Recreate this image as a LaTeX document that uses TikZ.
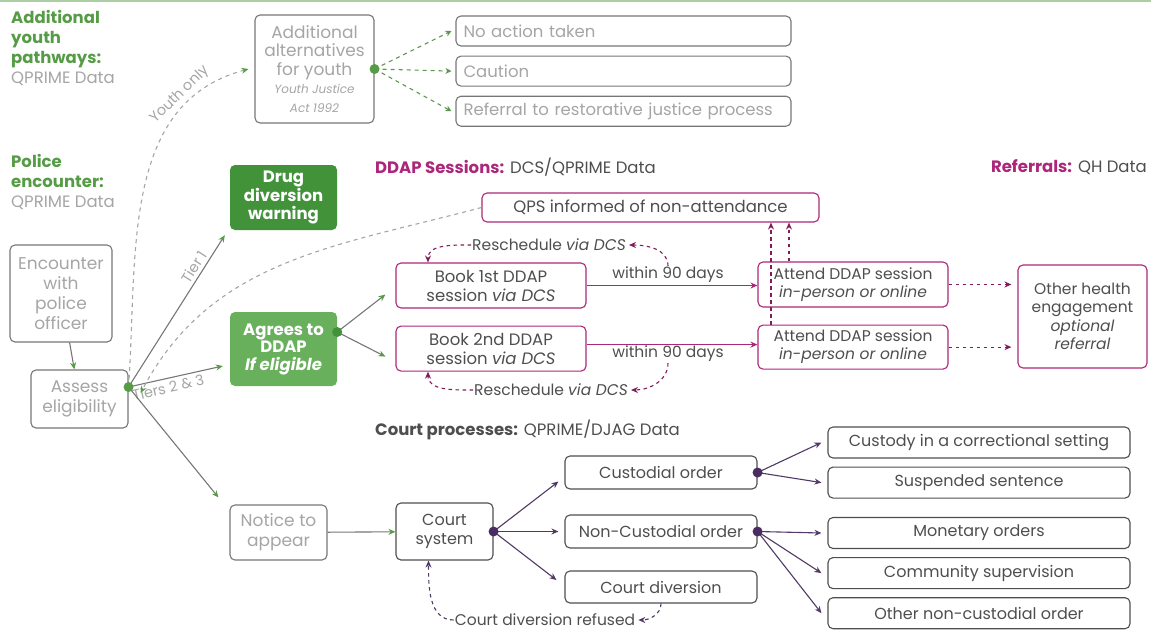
\documentclass[tikz,border=0pt]{standalone}
\usepackage{fontspec}
\setmainfont{Poppins}
\usepackage{xcolor}
\usetikzlibrary{positioning,arrows.meta,calc}
\definecolor{boxgray}{RGB}{118,118,118}
\definecolor{softgray}{RGB}{165,165,165}
\definecolor{inkgray}{RGB}{78,78,78}
\definecolor{headgreen}{RGB}{86,156,70}
\definecolor{warngreen}{RGB}{66,146,58}
\definecolor{agreegreen}{RGB}{104,176,92}
\definecolor{ddapmag}{RGB}{172,38,122}
\definecolor{courtpurp}{RGB}{72,44,98}
\tikzset{
  gbox/.style  = {draw=boxgray, rounded corners=5pt, line width=1.1pt, align=center, text=softgray, inner sep=2pt, font=\fontsize{16.5}{19.5}\selectfont},
  fbox/.style  = {draw=none, rounded corners=5pt, align=center, text=white, inner sep=2pt, font=\fontsize{16.5}{17.5}\selectfont\bfseries},
  mbox/.style  = {draw=ddapmag, rounded corners=5pt, line width=1.1pt, align=center, text=inkgray, inner sep=2pt, font=\fontsize{16.5}{19}\selectfont},
  cbox/.style  = {draw=inkgray, rounded corners=5pt, line width=1.1pt, align=center, text=inkgray, inner sep=2pt, font=\fontsize{16}{19}\selectfont},
  head/.style  = {anchor=north west, align=left, inner sep=0pt, font=\fontsize{16.5}{20}\selectfont},
  lbl/.style   = {inner sep=1pt, text=inkgray, font=\fontsize{15.5}{17}\selectfont},
  glbl/.style  = {inner sep=3pt, text=softgray, font=\fontsize{14.5}{16}\selectfont},
  gflow/.style = {-{Stealth[length=7pt,width=6pt,color=headgreen]}, line width=1.1pt, draw=boxgray},
  gdash/.style = {gflow, dash pattern=on 4pt off 4pt},
  ydash/.style = {-{Stealth[length=6pt,width=6pt]}, line width=1.1pt, draw=headgreen!80!gray, dash pattern=on 4pt off 4pt},
  mflow/.style = {-{Stealth[length=7pt,width=6pt]}, line width=1.1pt, draw=ddapmag},
  mdash/.style = {mflow, draw=ddapmag!75!black, dash pattern=on 3.5pt off 3.5pt},
  cflow/.style = {-{Stealth[length=7pt,width=6pt]}, line width=1.1pt, draw=courtpurp!85!gray},
  cdash/.style = {cflow, dash pattern=on 3.5pt off 3.5pt},
}
\newcommand{\subtxt}[1]{{\fontsize{12}{19}\selectfont\itshape #1}}

\begin{document}
\begin{tikzpicture}[x=1pt, y=-1pt, node distance=9pt]
  \useasboundingbox (0,0) rectangle (1151,630);
  \draw[headgreen!50, line width=2pt] (0,1) -- (1151,1);

  % headings
  \node[head] (hy) at (11,10) {\textcolor{headgreen}{\bfseries Additional}\\\textcolor{headgreen}{\bfseries youth}\\\textcolor{headgreen}{\bfseries pathways:}\\\textcolor{softgray}{QPRIME Data}};
  \node[head] (hp) at (11,154) {\textcolor{headgreen}{\bfseries Police}\\\textcolor{headgreen}{\bfseries encounter:}\\\textcolor{softgray}{QPRIME Data}};
  \node[head, anchor=west] (hd) at (375,167) {\textcolor{ddapmag}{\bfseries DDAP Sessions:} \textcolor{inkgray}{DCS/QPRIME Data}};
  \node[head, anchor=east] (hr) at (1147,167) {\textcolor{ddapmag}{\bfseries Referrals:} \textcolor{inkgray}{QH Data}};
  \node[head, anchor=west] (hc) at (375,430) {\textcolor{inkgray}{\bfseries Court processes:} \textcolor{inkgray}{QPRIME/DJAG Data}};

  % youth pathways
  \node[gbox, minimum width=119pt, minimum height=108pt, font=\fontsize{17}{18.5}\selectfont] (alt) at (314.5,69) {Additional\\alternatives\\for youth\\\subtxt{Youth Justice}\\\subtxt{Act 1992}};
  \node[gbox, minimum width=335pt, minimum height=30pt, text width=320pt, align=left] (noact) at (623.5,31) {No action taken};
  \node[gbox, minimum width=335pt, minimum height=30pt, text width=320pt, align=left, below=9pt of noact] (caut) {Caution};
  \node[gbox, minimum width=335pt, minimum height=30pt, text width=320pt, align=left, below=9pt of caut] (restj) {Referral to restorative justice process};

  % police encounter
  \node[gbox, minimum width=102pt, minimum height=97pt, font=\fontsize{17}{20}\selectfont] (enc) at (61,293.5) {Encounter\\with\\police\\officer};
  \node[gbox, minimum width=97pt, minimum height=58pt, font=\fontsize{17}{20}\selectfont] (assess) at (79.5,399) {Assess\\eligibility};
  \node[fbox, fill=warngreen, minimum width=107pt, minimum height=65pt] (ddw) at (283.5,197.5) {Drug\\diversion\\warning};
  \node[fbox, fill=agreegreen, minimum width=107pt, minimum height=74pt] (agree) at (283.5,349) {Agrees to\\DDAP\\\textit{If eligible}};
  \node[gbox, minimum width=97pt, minimum height=55pt, font=\fontsize{17}{20}\selectfont] (notice) at (278.5,532.5) {Notice to\\appear};

  % DDAP sessions
  \node[mbox, minimum width=337pt, minimum height=29pt] (qps) at (650.5,207.5) {QPS informed of non-attendance};
  \node[mbox, minimum width=190pt, minimum height=45pt] (book1) at (491,285.5) {Book 1st DDAP\\session \textit{via DCS}};
  \node[mbox, minimum width=190pt, minimum height=45pt, below=17pt of book1] (book2) {Book 2nd DDAP\\session \textit{via DCS}};
  \node[mbox, minimum width=190pt, minimum height=45pt, font=\fontsize{15.5}{18}\selectfont] (att1) at (853,284.5) {Attend DDAP session\\\textit{in-person or online}};
  \node[mbox, minimum width=190pt, minimum height=44pt, font=\fontsize{15.5}{18}\selectfont, below=17pt of att1] (att2) {Attend DDAP session\\\textit{in-person or online}};
  \node[mbox, minimum width=129pt, minimum height=103pt, font=\fontsize{15.5}{18.5}\selectfont] (other) at (1082.5,316.5) {Other health\\engagement\\\textit{optional}\\\textit{referral}};
  \node[lbl] (w1) at (668,275) {within 90 days};
  \node[lbl] (w2) at (668,354) {within 90 days};
  \node[lbl] (rs1) at (549,245) {Reschedule \textit{via DCS}};
  \node[lbl] (rs2) at (551,390) {Reschedule \textit{via DCS}};

  % court processes
  \node[cbox, minimum width=97pt, minimum height=57pt] (court) at (444.5,531.5) {Court\\system};
  \node[cbox, minimum width=192pt, minimum height=33pt] (cust) at (661,472.5) {Custodial order};
  \node[cbox, minimum width=192pt, minimum height=33pt] (ncust) at (661,531.5) {Non-Custodial order};
  \node[cbox, minimum width=192pt, minimum height=32pt] (cdiv) at (661,587) {Court diversion};
  \node[cbox, minimum width=302pt, minimum height=31pt] (cics) at (979,442.5) {Custody in a correctional setting};
  \node[cbox, minimum width=302pt, minimum height=31pt, below=8pt of cics] (susp) {Suspended sentence};
  \node[cbox, minimum width=302pt, minimum height=31pt] (mon) at (979,533) {Monetary orders};
  \node[cbox, minimum width=302pt, minimum height=31pt, below=8pt of mon] (comm) {Community supervision};
  \node[cbox, minimum width=302pt, minimum height=31pt, below=8pt of comm] (othnc) {Other non-custodial order};
  \node[lbl] (cref) at (545,620) {Court diversion refused};

  % hubs
  \coordinate (y0) at (alt.east);
  \coordinate (a0) at ([yshift=12pt]assess.east);
  \coordinate (g0) at ([yshift=17pt]agree.east);
  \coordinate (c0) at (court.east);
  \coordinate (k1) at (cust.east);
  \coordinate (k2) at (ncust.east);

  % youth connectors
  \draw[ydash] (y0) -- ([xshift=-4pt]noact.west);
  \draw[ydash] (y0) -- ([xshift=-4pt]caut.west);
  \draw[ydash] (y0) -- ([xshift=-4pt]restj.west);
  \draw[gdash, draw=softgray] (a0) to[out=86,in=195]
    node[glbl, sloped, above, pos=0.8] {Youth only} ([xshift=-6pt]alt.west);

  % police connectors
  \draw[gflow] (enc) -- (assess);
  \draw[gflow] (a0) -- node[glbl, sloped, above, pos=0.76] {Tier 1} ([shift={(-5pt,-5pt)}]ddw.south west);
  \draw[gflow] (a0) -- node[glbl, sloped, below, pos=0.4] {Tiers 2 \& 3} ([shift={(-7pt,-17pt)}]agree.west);
  \draw[gflow] (a0) -- ([shift={(-11pt,7pt)}]notice.north west);
  \draw[gdash, draw=softgray] (qps.west) to[out=195,in=62] ([shift={(12pt,-6pt)}]a0);
  \draw[gflow] (g0) -- ([shift={(-10pt,-9pt)}]book1.west);
  \draw[gflow] (g0) -- ([shift={(-10pt,-8pt)}]book2.west);
  \draw[gflow] (notice) -- (court);

  % DDAP connectors
  \draw[mflow] (book1.east) -- (book1.east -| att1.west);
  \draw[mflow] ([yshift=4pt]book2.east) -- ([yshift=4pt]book2.east -| att2.west);
  \draw[mdash] (att1.east) -- ([xshift=-6pt]att1.east -| other.west);
  \draw[mdash] (att2.east) -- ([xshift=-6pt]att2.east -| other.west);
  \draw[mdash] ([xshift=-82pt]att2.north) -- ([xshift=-82pt]att2.north |- qps.south);
  \draw[mdash] ([xshift=-64pt]att1.north) -- ([xshift=-64pt]att1.north |- qps.south);
  \draw[mdash] (w1.north) to[out=90,in=0] ([xshift=2pt]rs1.east);
  \draw[mdash] (rs1.west) to[out=180,in=90] ([xshift=-63pt]book1.north);
  \draw[mdash] (w2.south) to[out=-90,in=0] ([xshift=2pt]rs2.east);
  \draw[mdash] (rs2.west) to[out=180,in=-90] ([xshift=-63pt]book2.south);

  % court connectors
  \draw[cflow] (c0) -- ([shift={(-6pt,-9pt)}]cust.west);
  \draw[cflow] (c0) -- ([xshift=-6pt]ncust.west);
  \draw[cflow] (c0) -- ([shift={(-8pt,7pt)}]cdiv.west);
  \draw[cflow] (k1) -- ([xshift=-6pt]cics.west);
  \draw[cflow] (k1) -- ([xshift=-6pt]susp.west);
  \draw[cflow] (k2) -- ([xshift=-6pt]mon.west);
  \draw[cflow] (k2) -- ([xshift=-6pt]comm.west);
  \draw[cflow] (k2) -- ([xshift=-6pt]othnc.west);
  \draw[cdash] (cdiv.south) to[out=-90,in=0] ([xshift=2pt]cref.east);
  \draw[cdash] (cref.west) to[out=180,in=-90] ([xshift=-16pt]court.south);

  % hub dots
  \fill[headgreen] (y0) circle (5pt);
  \fill[headgreen] (a0) circle (5pt);
  \fill[warngreen] (g0) circle (5pt);
  \fill[courtpurp] (c0) circle (5pt);
  \fill[courtpurp] (k1) circle (5pt);
  \fill[courtpurp] (k2) circle (5pt);
\end{tikzpicture}
\end{document}
